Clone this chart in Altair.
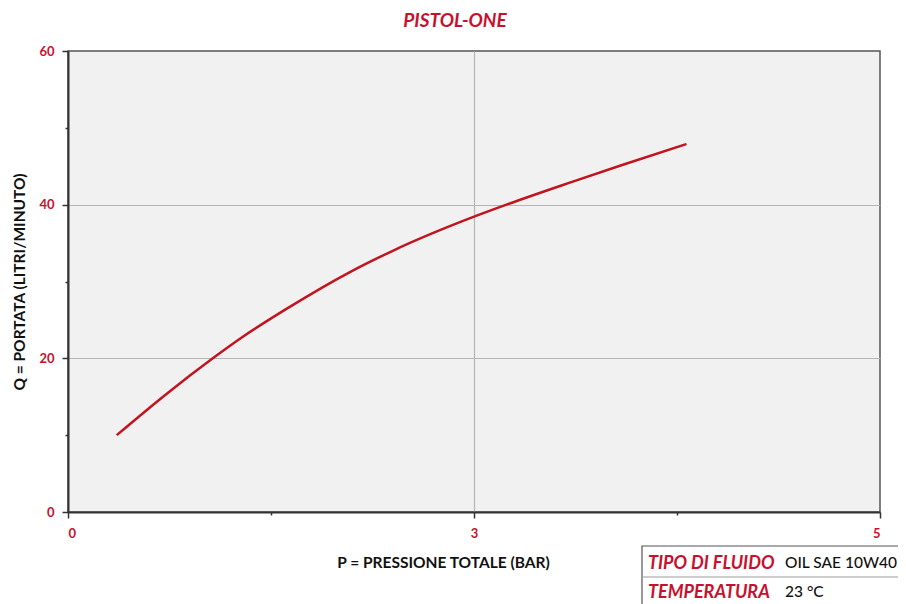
import altair as alt
import pandas as pd

# Curve data (x in axis units 0..6, where the last tick is labelled "5")
pressure = [0.36, 0.73, 1.07, 1.30, 1.62, 2.08, 2.40, 3.01, 3.24, 3.73, 4.10, 4.57]
flow = [10.0, 15.4, 20.0, 22.9, 26.5, 31.2, 34.0, 38.5, 40.0, 43.0, 45.2, 47.9]

x_tick_values = [0, 1.5, 3, 4.5, 6]
y_tick_values = [0, 10, 20, 30, 40, 50, 60]

table_keys = ["TIPO DI FLUIDO", "TEMPERATURA"]
table_vals = ["OIL SAE 10W40", "23 °C"]

RED = "#c8102e"
LINE_RED = "#c0141e"
FONT = "Lato"

df = pd.DataFrame({"p": pressure, "q": flow})

label_expr = "datum.value == 0 ? '0' : datum.value == 3 ? '3' : datum.value == 6 ? '5' : ''"

x_axis = alt.Axis(
    values=x_tick_values,
    labelExpr=label_expr,
    labelColor=RED,
    labelFont=FONT,
    labelFontWeight="bold",
    labelFontSize=13,
    labelPadding=9,
    tickSize={"condition": {"test": "datum.value % 3 != 0", "value": 3}, "value": 6},
    tickColor="#333333",
    tickWidth=1.5,
    domainColor="#333333",
    domainWidth=2,
    grid=True,
    gridColor="#b5b5b5",
    gridWidth=1.2,
    gridOpacity={"condition": {"test": "datum.value == 3", "value": 1}, "value": 0},
    title="P = PRESSIONE TOTALE (BAR)",
    titleFont=FONT,
    titleFontWeight="bold",
    titleFontSize=15.5,
    titleColor="#111111",
    titlePadding=15,
    titleX=375,
)

y_axis = alt.Axis(
    values=y_tick_values,
    labelExpr="datum.value % 20 == 0 ? datum.label : ''",
    labelColor=RED,
    labelFont=FONT,
    labelFontWeight="bold",
    labelFontSize=13,
    labelPadding=8,
    tickSize={"condition": {"test": "datum.value % 20 != 0", "value": 3}, "value": 6},
    tickColor="#333333",
    tickWidth=1.5,
    domainColor="#333333",
    domainWidth=2,
    grid=True,
    gridColor="#b5b5b5",
    gridWidth=1.2,
    gridOpacity={"condition": {"test": "datum.value == 20 || datum.value == 40", "value": 1}, "value": 0},
    title="Q = PORTATA (LITRI/MINUTO)",
    titleFont=FONT,
    titleFontWeight="bold",
    titleFontSize=15.5,
    titleColor="#111111",
    titlePadding=11,
)

line = alt.Chart(df).mark_line(color=LINE_RED, strokeWidth=2.5, interpolate="monotone").encode(
    x=alt.X("p:Q", scale=alt.Scale(domain=[0, 6], nice=False), axis=x_axis),
    y=alt.Y("q:Q", scale=alt.Scale(domain=[0, 60], nice=False), axis=y_axis),
)

# Info table (bottom right)
tbl = pd.DataFrame({"k": table_keys, "v": table_vals, "row": [0, 1]})

box = alt.Chart(pd.DataFrame({"a": [0]})).mark_rect(
    fill="white", stroke="#555555", strokeWidth=1.2, clip=False
).encode(x=alt.value(574), x2=alt.value(845), y=alt.value(495), y2=alt.value(560))

divider = alt.Chart(pd.DataFrame({"a": [0]})).mark_rule(
    color="#999999", strokeWidth=1, clip=False
).encode(x=alt.value(574), x2=alt.value(845), y=alt.value(526))

row_scale_k = alt.Scale(domain=[0, 1], range=[518, 547])
row_scale_v = alt.Scale(domain=[0, 1], range=[517, 546])

key_text = alt.Chart(tbl).mark_text(
    align="left", baseline="alphabetic", color=RED, font=FONT, fontWeight="bold",
    fontStyle="italic", fontSize=18, clip=False
).encode(
    text="k:N",
    x=alt.value(580),
    y=alt.Y("row:Q", axis=None, scale=row_scale_k),
)

val_text = alt.Chart(tbl).mark_text(
    align="left", baseline="alphabetic", color="#111111", font=FONT, fontWeight=500,
    fontSize=15.5, clip=False
).encode(
    text="v:N",
    x=alt.value(717),
    y=alt.Y("row:Q", axis=None, scale=row_scale_v),
)

chart = alt.layer(line, box, divider, key_text, val_text).resolve_scale(y="independent").properties(
    width=812,
    height=461,
    autosize=alt.AutoSizeParams(type="none"),
    padding={"left": 60, "top": 43, "right": 18, "bottom": 92},
    background="white",
    title=alt.TitleParams(
        "PISTOL-ONE", color=RED, font=FONT, fontSize=19, fontWeight="bold",
        fontStyle="italic", anchor="middle", dx=-19, offset=14,
    ),
).configure_view(
    fill="#f1f1f1", stroke="#555555", strokeWidth=1.5
)

chart.save("out.html", embed_options={"renderer": "svg", "actions": False})
